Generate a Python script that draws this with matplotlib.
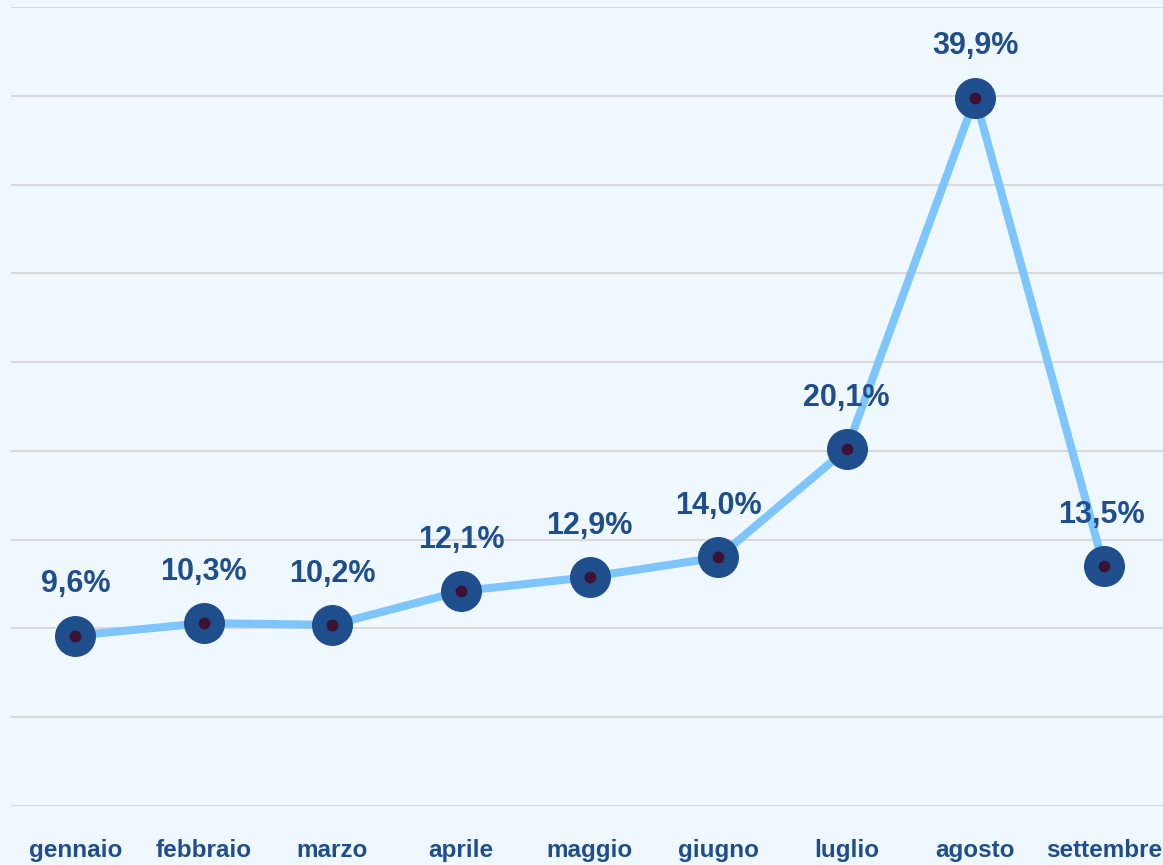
import numpy as np
import matplotlib.pyplot as plt

mesi = ['gennaio', 'febbraio', 'marzo', 'aprile', 'maggio', 'giugno',
        'luglio', 'agosto', 'settembre']
valori = [9.6, 10.3, 10.2, 12.1, 12.9, 14.0, 20.1, 39.9, 13.5]

bg = '#F0F8FF'
blu = '#1F4E8C'
azzurro = '#7DC5FA'
font = ['Liberation Sans', 'DejaVu Sans']

fig = plt.figure(figsize=(11.63, 8.65), dpi=100, facecolor=bg)
ax = fig.add_axes([11/1163, 1 - 806/865, 1 - 11/1163, (806 - 7)/865])
ax.set_facecolor(bg)

x = np.arange(len(mesi))
ax.plot(x, valori, color=azzurro, linewidth=5.8, zorder=3, solid_capstyle='round')
ax.plot(x, valori, linestyle='none', marker='o', markersize=28.5,
        markerfacecolor=blu, markeredgecolor=blu, zorder=4)
ax.plot(x, valori, linestyle='none', marker='o', markersize=7.5,
        markerfacecolor='#3D1232', markeredgecolor='#3D1232', zorder=5)

for xi, v in zip(x, valori):
    ax.annotate('{:.1f}%'.format(v).replace('.', ','), (xi, v),
                xytext=(-2 if xi == 8 else 0, 26), textcoords='offset points',
                ha='center', va='bottom', fontsize=22, fontweight='bold',
                color=blu, family=font, zorder=6)

ax.set_ylim(0, 45)
ax.set_yticks(np.arange(0, 46, 5))
ax.set_xlim(-0.5, 8.46)
ax.set_xticks(x)
ax.set_xticklabels(mesi, fontsize=17.5, fontweight='bold', color=blu, family=font)
ax.tick_params(axis='x', length=0, pad=24)
ax.tick_params(axis='y', length=0, labelleft=False)
ax.grid(axis='y', color='#D9D9D9', linewidth=1.5)
ax.set_axisbelow(True)
for s in ax.spines.values():
    s.set_visible(False)

fig.savefig('out.png', dpi=100, facecolor=bg)
